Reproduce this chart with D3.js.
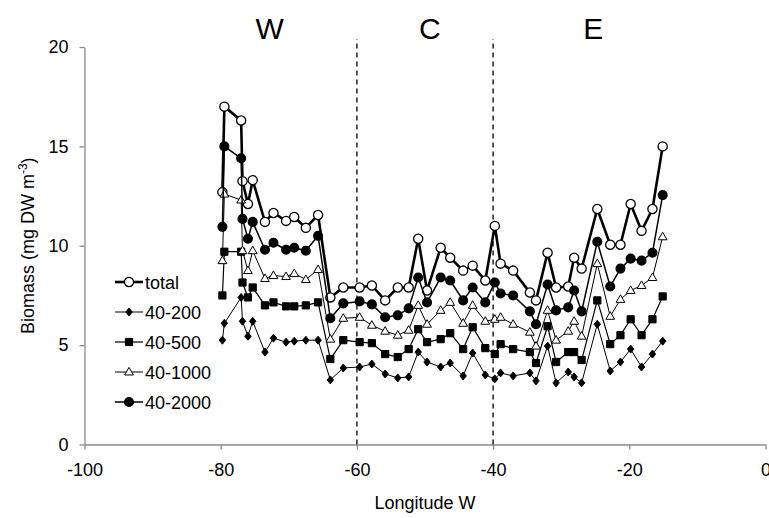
<!DOCTYPE html>
<html>
<head>
<meta charset="utf-8">
<script src="https://cdn.jsdelivr.net/npm/d3@7"></script>
<style>
  body { margin: 0; background: #fff; }
  svg { display: block; font-family: Arial, "Liberation Sans", sans-serif; }
</style>
</head>
<body>
<svg id="chart"></svg>
<script>
const ink = "#000";
const axisGrey = "#8a8a8a";

// station longitudes (degrees, negative = W)
const lon = [-79.75, -79.46, -77.0, -76.8, -76.0, -75.3, -73.5, -72.25, -70.4, -69.2,
  -67.5, -65.7, -63.9, -62.0, -59.6, -57.8, -55.85, -54.0, -52.4, -51.0,
  -49.7, -47.7, -46.3, -44.4, -43.0, -41.15, -39.75, -38.9, -37.06, -34.6,
  -33.7, -32.0, -30.75, -28.97, -28.1, -27.0, -24.7, -22.8, -21.3, -19.8,
  -18.2, -16.6, -15.1];

const total = [12.7, 17.0, 16.3, 13.25, 12.1, 13.3, 11.2, 11.65, 11.25, 11.45,
  10.9, 11.55, 7.4, 7.9, 7.9, 8.0, 7.25, 7.9, 7.9, 10.35,
  7.75, 9.9, 9.4, 8.75, 9.0, 8.25, 11.0, 9.1, 8.75, 7.65,
  7.25, 9.65, 7.9, 7.95, 9.4, 8.85, 11.85, 10.05, 10.05, 12.1,
  10.75, 11.85, 15.0];

const s200 = [5.25, 6.1, 7.4, 6.2, 5.45, 6.2, 4.65, 5.35, 5.15, 5.2,
  5.25, 5.25, 3.25, 3.85, 3.9, 4.05, 3.55, 3.35, 3.4, 4.65,
  4.15, 3.9, 4.1, 3.45, 4.6, 3.5, 3.3, 3.6, 3.45, 3.6,
  3.2, 4.95, 3.1, 3.65, 3.4, 3.1, 6.05, 3.7, 4.15, 4.8,
  3.9, 4.55, 5.2];

const s500 = [7.5, 9.7, 9.7, 8.15, 7.4, 7.9, 7.0, 7.15, 6.95, 6.95,
  7.0, 7.15, 4.3, 5.25, 5.15, 5.1, 4.55, 4.4, 4.8, 5.8,
  5.15, 5.3, 5.6, 4.8, 5.9, 4.85, 4.55, 5.05, 4.8, 4.65,
  4.1, 5.95, 4.15, 4.65, 4.65, 4.25, 7.25, 5.05, 5.5, 6.3,
  5.5, 6.3, 7.45];

const s1000 = [9.25, 12.6, 12.3, 9.75, 8.75, 9.75, 8.35, 8.5, 8.45, 8.6,
  8.3, 8.8, 5.3, 6.35, 6.4, 6.0, 5.7, 5.5, 5.75, 7.0,
  6.05, 6.75, 7.15, 6.1, 7.0, 6.2, 6.3, 6.4, 6.05, 5.65,
  4.95, 6.75, 5.25, 5.7, 6.2, 5.45, 9.1, 6.45, 7.3, 7.75,
  8.0, 8.4, 10.45];

const s2000 = [10.95, 15.0, 14.4, 11.35, 10.35, 11.2, 9.8, 10.15, 9.8, 9.9,
  9.75, 10.5, 6.35, 7.1, 7.2, 7.05, 6.4, 6.5, 6.85, 8.4,
  7.15, 8.4, 8.25, 7.25, 7.9, 7.15, 8.15, 7.6, 7.5, 6.7,
  6.05, 8.05, 6.75, 6.9, 7.75, 6.7, 10.2, 7.95, 8.85, 9.35,
  9.25, 9.65, 12.55];

const seriesNames = ["total", "40-200", "40-500", "40-1000", "40-2000"];
const seriesValues = [total, s200, s500, s1000, s2000];

const xTicks = [-100, -80, -60, -40, -20, 0];
const yTicks = [0, 5, 10, 15, 20];
const boundaries = [-60, -40];
const regions = [["W", -72.8], ["C", -49.3], ["E", -25.3]];

const W = 769, H = 518;
const svg = d3.select("#chart").attr("width", W).attr("height", H);

const x = d3.scaleLinear().domain([-100, 0]).range([84.5, 765.5]);
const y = d3.scaleLinear().domain([0, 20]).range([444.5, 47]);

// marker styles per series
const styles = {
  "total":   { lw: 2.6, shape: "circle", r: 4.6, fill: "#fff" },
  "40-200":  { lw: 1,   shape: "diamond", r: 4, fill: ink },
  "40-500":  { lw: 1.2, shape: "square", r: 3.6, fill: ink },
  "40-1000": { lw: 1,   shape: "triangle", r: 4.6, fill: "#fff" },
  "40-2000": { lw: 1.5, shape: "circle", r: 4.4, fill: ink }
};

function marker(g, name) {
  const s = styles[name];
  if (s.shape === "circle") {
    return g.append("circle").attr("r", s.r).attr("fill", s.fill)
      .attr("stroke", ink).attr("stroke-width", 1.3);
  }
  let p;
  if (s.shape === "diamond") p = `M0,${-s.r}L${s.r * 0.8},0L0,${s.r}L${-s.r * 0.8},0Z`;
  if (s.shape === "square") p = `M${-s.r},${-s.r}H${s.r}V${s.r}H${-s.r}Z`;
  if (s.shape === "triangle") p = `M0,${-s.r}L${s.r * 0.95},${s.r * 0.65}L${-s.r * 0.95},${s.r * 0.65}Z`;
  return g.append("path").attr("d", p).attr("fill", s.fill)
    .attr("stroke", ink).attr("stroke-width", 1);
}

// Axes
const xAxis = svg.append("g")
  .attr("transform", `translate(0,${y(0)})`)
  .call(d3.axisBottom(x).tickValues(xTicks).tickSize(5).tickPadding(14)
    .tickFormat(d => String(d)).tickSizeOuter(0));

const yAxis = svg.append("g")
  .attr("transform", `translate(${x(-100)},0)`)
  .call(d3.axisLeft(y).tickValues(yTicks).tickSize(5).tickPadding(11)
    .tickFormat(d => String(d)).tickSizeOuter(0));

[xAxis, yAxis].forEach(a => {
  a.select(".domain").attr("stroke", axisGrey).attr("stroke-width", 1.3);
  a.selectAll(".tick line").attr("stroke", axisGrey).attr("stroke-width", 1.3);
  a.selectAll(".tick text").attr("fill", ink).style("font-size", "18px")
    .style("font-family", "Arial, 'Liberation Sans', sans-serif");
});

// Region boundaries
svg.selectAll(".bound")
  .data(boundaries)
  .join("line")
  .attr("class", "bound")
  .attr("x1", d => x(d)).attr("x2", d => x(d))
  .attr("y1", y(0)).attr("y2", y(20.4))
  .attr("stroke", ink).attr("stroke-width", 1.3)
  .attr("stroke-dasharray", "5,4");

// Region labels
svg.selectAll(".region")
  .data(regions)
  .join("text")
  .attr("class", "region")
  .attr("x", d => x(d[1]))
  .attr("y", 39)
  .attr("text-anchor", "middle")
  .style("font-size", "30px")
  .attr("fill", ink)
  .text(d => d[0]);

// Series lines and markers
const line = d3.line().x(d => x(d[0])).y(d => y(d[1]));

seriesNames.forEach((name, i) => {
  const pts = lon.map((l, j) => [l, seriesValues[i][j]]);
  svg.append("path")
    .datum(pts)
    .attr("d", line)
    .attr("fill", "none")
    .attr("stroke", ink)
    .attr("stroke-width", styles[name].lw)
    .attr("stroke-linejoin", "round");
  const mg = svg.append("g");
  pts.forEach(p => {
    marker(mg, name).attr("transform", `translate(${x(p[0])},${y(p[1])})`);
  });
});

// Legend
const legend = svg.append("g").attr("transform", "translate(115, 282)");
seriesNames.forEach((name, i) => {
  const g = legend.append("g").attr("transform", `translate(0, ${i * 30})`);
  g.append("line").attr("x1", 0).attr("x2", 28).attr("y1", 0).attr("y2", 0)
    .attr("stroke", ink).attr("stroke-width", styles[name].lw);
  marker(g, name).attr("transform", "translate(14,0)");
  g.append("text")
    .attr("x", 30).attr("y", 6.5)
    .style("font-size", "18px")
    .attr("fill", ink)
    .text(name);
});

// Axis titles
svg.append("text")
  .attr("x", x(-50)).attr("y", 509)
  .attr("text-anchor", "middle")
  .style("font-size", "18px")
  .attr("fill", ink)
  .text("Longitude W");

const yt = svg.append("text")
  .attr("transform", `translate(34,${y(10)}) rotate(-90)`)
  .attr("text-anchor", "middle")
  .style("font-size", "18px")
  .attr("fill", ink);
yt.append("tspan").text("Biomass (mg DW m");
yt.append("tspan").attr("dy", -7).style("font-size", "12px").text("-3");
yt.append("tspan").attr("dy", 7).text(")");
</script>
</body>
</html>
